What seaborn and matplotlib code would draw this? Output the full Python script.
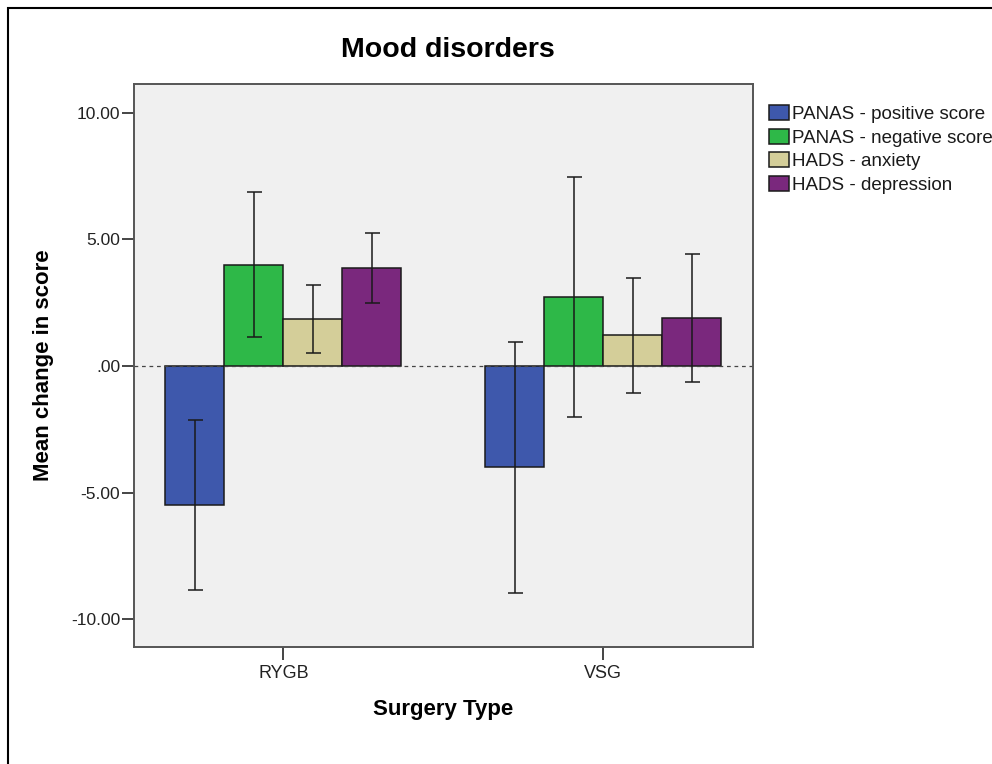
import matplotlib
matplotlib.use("Agg")
import matplotlib.pyplot as plt
from matplotlib.patches import Rectangle
import seaborn as sns
import pandas as pd

# Data: mean change in score by surgery type, with half-width of the error bars
surgery_types = ["RYGB", "VSG"]
measures = ["PANAS - positive score", "PANAS - negative score",
            "HADS - anxiety", "HADS - depression"]
mean_rygb = [-5.48, 4.00, 1.85, 3.86]
mean_vsg = [-4.00, 2.71, 1.21, 1.89]
err_rygb = [3.35, 2.86, 1.35, 1.39]
err_vsg = [4.96, 4.73, 2.26, 2.52]
y_ticks = [-10, -5, 0, 5, 10]
y_tick_labels = ["-10.00", "-5.00", ".00", "5.00", "10.00"]

colors = ["#3E58AC", "#2EB848", "#D4CE99", "#7A287D"]

rows = []
for s, means in zip(surgery_types, [mean_rygb, mean_vsg]):
    for m, v in zip(measures, means):
        rows.append({"Surgery Type": s, "Measure": m, "Mean": v})
df = pd.DataFrame(rows)
errors = {"RYGB": err_rygb, "VSG": err_vsg}

sns.set_style("white")
plt.rcParams["font.family"] = ["Liberation Sans", "DejaVu Sans"]
plt.rcParams["text.color"] = "black"
plt.rcParams["axes.labelcolor"] = "black"

W, H = 992, 764
fig = plt.figure(figsize=(W / 100, H / 100), dpi=100)
ax = fig.add_axes([134 / W, 1 - 647 / H, (752.5 - 134) / W, (647 - 84) / H])
ax.set_facecolor("#F0F0F0")

sns.barplot(data=df, x="Surgery Type", y="Mean", hue="Measure",
            order=surgery_types, hue_order=measures, palette=colors,
            width=0.7375, errorbar=None, edgecolor="#1a1a1a", linewidth=1.1,
            saturation=1, ax=ax)

bar_containers = list(ax.containers)

# Error bars centred on each bar
for i, cont in enumerate(bar_containers):
    xs, ys, es = [], [], []
    for j, bar in enumerate(cont.patches):
        xs.append(bar.get_x() + bar.get_width() / 2)
        s = surgery_types[j]
        ys.append(df[(df["Surgery Type"] == s) & (df["Measure"] == measures[i])]["Mean"].iloc[0])
        es.append(errors[s][i])
    ax.errorbar(xs, ys, yerr=es, fmt="none", ecolor="#1a1a1a",
                elinewidth=1.1, capsize=5.4, capthick=1.1, zorder=5)

ax.axhline(0, color="#444444", lw=0.9, ls=(0, (3, 3)), zorder=1)

ax.set_xlim(-0.467, 1.466)
ax.set_ylim(-11.09, 11.13)
ax.set_yticks(y_ticks)
ax.set_yticklabels(y_tick_labels)

for sp in ax.spines.values():
    sp.set_visible(True)
    sp.set_color("#555555")
    sp.set_linewidth(1.4)

ax.tick_params(axis="y", direction="out", length=9, width=1.4, color="#444444",
               pad=1, labelsize=12.5, labelcolor="#222222", left=True)
ax.tick_params(axis="x", direction="out", length=9, width=1.4, color="#444444",
               pad=4, labelsize=13, labelcolor="#222222", bottom=True)

ax.set_title("Mood disorders", fontsize=20.5, fontweight="bold", pad=19.5,
             color="black", x=0.508)
ax.set_xlabel("Surgery Type", fontsize=16, fontweight="bold")
ax.set_ylabel("Mean change in score", fontsize=16, fontweight="bold")
ax.xaxis.set_label_coords(0.5, (647 - 710) / (647 - 84))
ax.xaxis.label.set_va("center")
ax.yaxis.set_label_coords((44 - 134) / (752.5 - 134), 0.5)
ax.yaxis.label.set_va("center")

handles = [c.patches[0] for c in bar_containers]
if ax.get_legend() is not None:
    ax.get_legend().remove()
leg = fig.legend(handles, measures, loc="upper left",
                 bbox_to_anchor=(769 / W, 1 - 105 / H), frameon=False,
                 fontsize=13.5, handlelength=1.05, handleheight=0.85,
                 handletextpad=0.2, labelspacing=0.3, borderpad=0,
                 borderaxespad=0)
for t in leg.get_texts():
    t.set_color("#1a1a1a")

# Outer frame of the chart
fig.patches.append(Rectangle((8 / W, -0.1), 2, 1.1 - 8 / H,
                             transform=fig.transFigure, fill=False,
                             ec="black", lw=1.5, clip_on=False))

fig.savefig("out.png", dpi=100)
